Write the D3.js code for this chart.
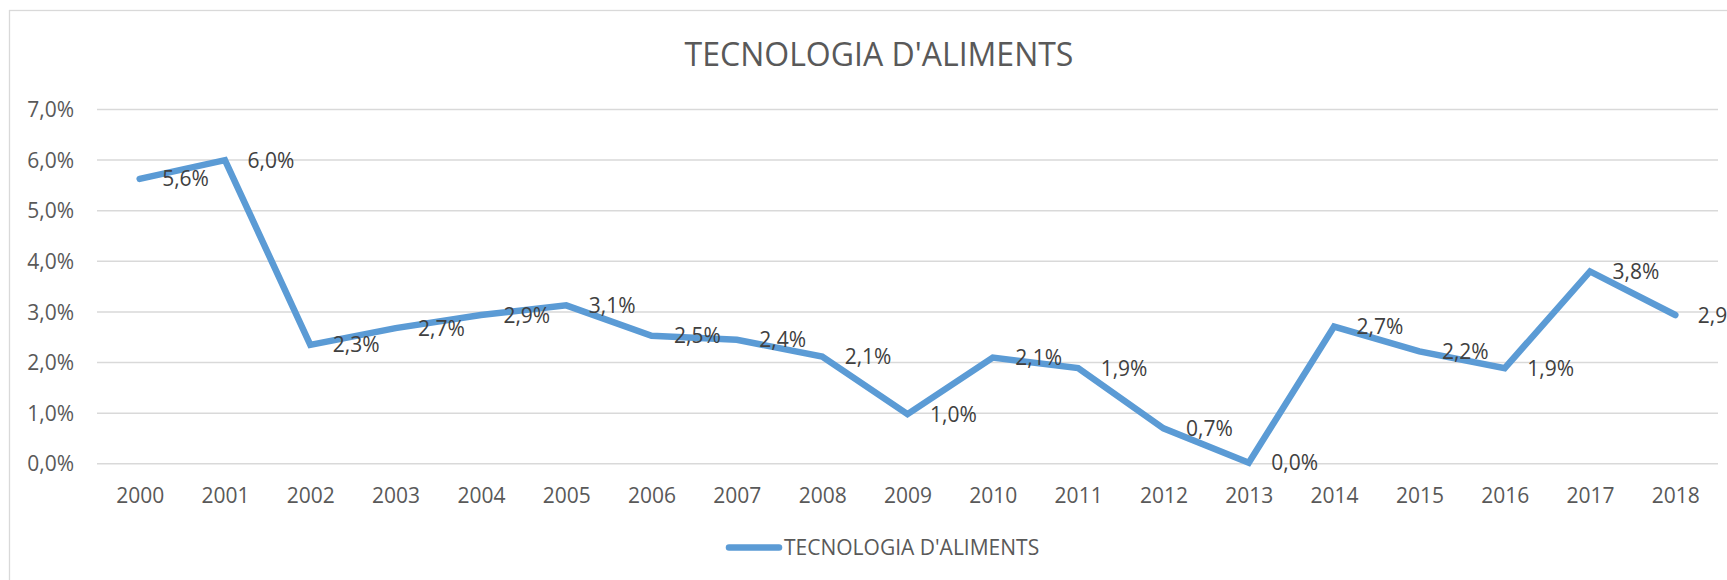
<!DOCTYPE html>
<html>
<head>
<meta charset="utf-8">
<script src="https://cdn.jsdelivr.net/npm/d3@7"></script>
<style>
  html, body { margin: 0; padding: 0; background: #fff; overflow: hidden; }
  svg { display: block; font-family: "Open Sans", "Noto Sans", sans-serif; }
</style>
</head>
<body>
<svg id="chart" width="1727" height="580"></svg>
<script>
const title = "TECNOLOGIA D'ALIMENTS";
const seriesName = "TECNOLOGIA D'ALIMENTS";
const years = ["2000","2001","2002","2003","2004","2005","2006","2007","2008","2009",
               "2010","2011","2012","2013","2014","2015","2016","2017","2018"];
const values = [5.62, 5.99, 2.34, 2.67, 2.93, 3.12, 2.52, 2.44, 2.11, 0.97,
                2.09, 1.88, 0.69, 0.01, 2.70, 2.21, 1.88, 3.79, 2.93];
const yTicks = [0, 1, 2, 3, 4, 5, 6, 7];

const svg = d3.select("#chart");
const fmt = v => d3.format(".1f")(v).replace(".", ",") + "%";

// chart frame
svg.append("rect")
  .attr("x", 9.5).attr("y", 10.5)
  .attr("width", 1760).attr("height", 600)
  .attr("fill", "#fff").attr("stroke", "#D9D9D9").attr("stroke-width", 1.3);

const x = d3.scalePoint().domain(years).range([97, 1718]).padding(0.5);
const y = d3.scaleLinear().domain([0, 7]).range([463.3, 109]);

// gridlines + y labels
const yAxis = d3.axisLeft(y).tickValues(yTicks).tickSize(-(1718 - 97)).tickPadding(23).tickFormat(fmt);
const gy = svg.append("g").attr("transform", "translate(97,0)").call(yAxis);
gy.select(".domain").remove();
gy.selectAll(".tick line").attr("stroke", "#D9D9D9").attr("stroke-width", 1.5);
gy.selectAll(".tick text").attr("fill", "#595959").attr("font-size", 21)
  .attr("font-family", "'Open Sans', sans-serif").attr("dy", "0.36em");

// x labels
const xAxis = d3.axisBottom(x).tickSize(0).tickPadding(0);
const gx = svg.append("g").attr("transform", "translate(0,463.3)").call(xAxis);
gx.select(".domain").remove();
gx.selectAll(".tick text").attr("fill", "#595959").attr("font-size", 21)
  .attr("font-family", "'Open Sans', sans-serif").attr("dy", null).attr("y", 39.5);

// line
const line = d3.line().x((d, i) => x(years[i])).y(d => y(d));
svg.append("path").datum(values)
  .attr("d", line).attr("fill", "none")
  .attr("stroke", "#5B9BD5").attr("stroke-width", 6.5)
  .attr("stroke-linejoin", "miter").attr("stroke-linecap", "round");

// data labels
svg.append("g").selectAll("text").data(values).join("text")
  .attr("x", (d, i) => x(years[i]) + 22.5)
  .attr("y", d => y(d))
  .attr("dy", "0.36em")
  .attr("fill", "#404040").attr("font-size", 21)
  .text(d => fmt(d));

// title
svg.append("text")
  .attr("x", 879).attr("y", 66)
  .attr("text-anchor", "middle")
  .attr("fill", "#595959").attr("font-size", 32)
  .text(title);

// legend
const lg = svg.append("g");
lg.append("line").attr("x1", 729).attr("x2", 779).attr("y1", 547.5).attr("y2", 547.5)
  .attr("stroke", "#5B9BD5").attr("stroke-width", 6.5).attr("stroke-linecap", "round");
lg.append("text").attr("x", 784).attr("y", 547.5).attr("dy", "0.36em")
  .attr("fill", "#595959").attr("font-size", 21).text(seriesName);
</script>
</body>
</html>
